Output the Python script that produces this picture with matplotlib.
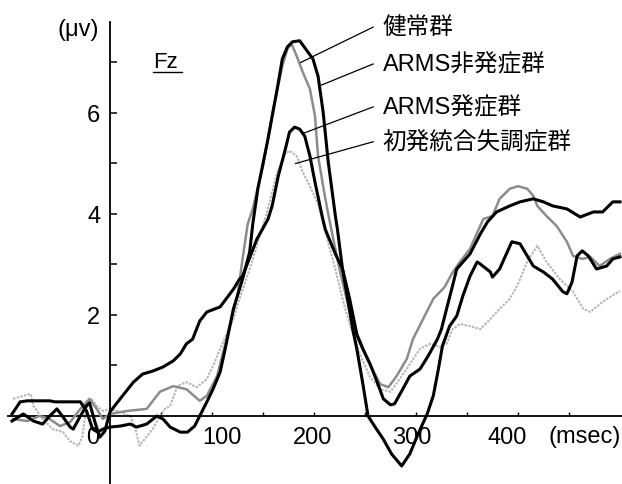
import matplotlib.pyplot as plt
from matplotlib.lines import Line2D
from matplotlib.ticker import FixedLocator

plt.rcParams['font.family'] = ['Liberation Sans', 'Noto Sans CJK JP']

# ---- data (msec, μV) ----
# ARMS非発症群 (black)
t_arms_non = [-96, -88, -81, -59, -54, -29, -23, -17, -12, -7,
              0, 10, 20, 26, 36, 46, 52, 59, 69, 76,
              83, 88, 95, 101, 108, 113, 121, 130, 137, 140,
              145, 155, 164, 169, 174, 179, 186, 199, 204, 209,
              214, 221, 223, 228, 233, 238, 242, 248, 253, 260,
              268, 276, 286, 294, 302, 311, 317, 322, 326, 333,
              340, 346, 353, 360, 363, 373, 375, 382, 394, 402,
              415, 425, 434, 444, 448, 453, 458, 463, 469, 477,
              487, 493, 500]
v_arms_non = [0.04, 0.28, 0.30, 0.30, 0.28, 0.28, 0.10, -0.26, -0.32, -0.26,
              -0.22, -0.20, -0.16, -0.22, -0.16, 0.00, -0.06, -0.22, -0.32, -0.32,
              -0.20, 0.00, 0.28, 0.53, 0.87, 1.33, 2.12, 2.71, 3.25, 3.80,
              4.50, 5.49, 6.48, 7.07, 7.31, 7.41, 7.43, 7.07, 6.73, 6.02,
              5.03, 3.96, 3.70, 2.91, 2.32, 1.72, 1.33, 0.63, 0.00, -0.22,
              -0.46, -0.75, -0.99, -0.75, -0.36, 0.04, 0.40, 0.93, 1.39, 1.78,
              1.98, 2.38, 2.77, 3.05, 3.01, 2.85, 2.75, 2.91, 3.45, 3.41,
              2.97, 2.85, 2.71, 2.46, 2.42, 2.65, 3.17, 3.27, 3.17, 2.91,
              2.97, 3.11, 3.15]

# ARMS発症群 (black)
t_arms_conv = [-96, -85, -75, -66, -59, -52, -46, -39, -36, -29,
               -23, -20, -15, -10, -5, 0, 10, 23, 32, 42,
               52, 62, 69, 75, 81, 88, 95, 108, 121, 127,
               130, 144, 155, 159, 165, 172, 176, 181, 186, 191,
               196, 201, 208, 211, 221, 228, 235, 242, 248, 255,
               262, 268, 275, 279, 287, 294, 304, 312, 321, 325,
               330, 335, 340, 353, 363, 370, 379, 392, 402, 415,
               425, 434, 448, 461, 474, 483, 493, 500]
v_arms_conv = [-0.10, 0.04, -0.10, -0.16, 0.00, 0.14, -0.02, -0.22, -0.26, 0.00,
               0.20, 0.26, -0.10, -0.42, -0.30, 0.08, 0.34, 0.67, 0.83, 0.89,
               0.97, 1.09, 1.23, 1.43, 1.52, 1.88, 2.06, 2.16, 2.51, 2.71,
               2.77, 3.50, 3.90, 4.16, 4.75, 5.29, 5.62, 5.72, 5.68, 5.54,
               5.15, 4.63, 3.96, 3.70, 3.21, 2.91, 2.32, 1.62, 1.33, 1.03,
               0.67, 0.34, 0.22, 0.24, 0.53, 0.79, 0.93, 1.19, 1.52, 1.72,
               2.12, 2.51, 2.91, 3.21, 3.60, 3.84, 4.04, 4.16, 4.24, 4.30,
               4.24, 4.16, 4.10, 3.94, 4.04, 4.04, 4.24, 4.24]

# 健常群 (gray)
t_healthy = [-95, -81, -69, -59, -49, -39, -29, -20, -13, -7,
             0, 17, 36, 49, 62, 75, 88, 95, 105, 115,
             125, 130, 135, 140, 150, 160, 169, 174, 178, 183,
             189, 196, 201, 204, 209, 213, 219, 225, 232, 240,
             252, 265, 273, 281, 291, 297, 307, 317, 328, 335,
             343, 353, 366, 375, 382, 392, 400, 409, 415, 419,
             428, 438, 448, 454, 463, 471, 480, 490, 500]
v_healthy = [-0.06, -0.10, 0.00, -0.06, -0.20, -0.12, 0.14, 0.34, 0.14, -0.06,
             0.04, 0.10, 0.14, 0.48, 0.59, 0.53, 0.30, 0.40, 0.79, 1.58,
             2.38, 3.11, 3.80, 4.10, 4.95, 6.08, 6.93, 7.27, 7.37, 7.13,
             6.81, 6.48, 5.94, 5.15, 4.55, 4.10, 3.50, 2.91, 2.32, 1.66,
             1.13, 0.63, 0.57, 0.79, 1.13, 1.52, 1.92, 2.32, 2.55, 2.81,
             3.05, 3.31, 3.90, 3.96, 4.30, 4.50, 4.55, 4.50, 4.36, 4.16,
             3.96, 3.76, 3.45, 3.17, 3.11, 3.15, 2.97, 3.11, 3.21]

# 初発統合失調症群 (light gray)
t_fep = [-95, -78, -75, -66, -56, -46, -39, -31, -27, -23,
         -18, -13, -7, 0, 10, 20, 25, 29, 34, 42,
         49, 54, 59, 66, 75, 85, 95, 101, 111, 121,
         127, 137, 144, 154, 164, 172, 176, 183, 189, 196,
         204, 213, 221, 228, 235, 245, 255, 265, 275, 284,
         294, 304, 314, 324, 330, 336, 343, 353, 363, 373,
         382, 392, 400, 409, 419, 428, 441, 454, 464, 471,
         483, 500]
v_fep = [0.34, 0.44, 0.20, -0.06, -0.26, -0.32, -0.50, -0.59, -0.40, 0.20,
         0.34, 0.20, 0.10, 0.14, 0.08, 0.00, -0.26, -0.59, -0.46, -0.26,
         0.00, 0.14, 0.20, 0.59, 0.67, 0.57, 0.73, 0.99, 1.47, 1.92,
         2.32, 2.91, 3.37, 4.04, 4.83, 5.19, 5.25, 5.15, 4.83, 4.55,
         4.20, 3.50, 2.91, 2.32, 1.82, 1.23, 0.77, 0.53, 0.48, 0.73,
         1.03, 1.33, 1.43, 1.37, 1.43, 1.72, 1.82, 1.78, 1.72, 1.92,
         2.12, 2.32, 2.61, 3.05, 3.37, 3.05, 2.71, 2.46, 2.12, 2.06,
         2.26, 2.48]

group_names = ['健常群', 'ARMS非発症群', 'ARMS発症群', '初発統合失調症群']
# leader line: point on curve -> end near label
lead_t0 = [187, 207, 190, 182]
lead_v0 = [7.00, 6.55, 5.60, 5.00]
lead_t1 = [258, 258, 258, 258]
lead_v1 = [7.70, 6.97, 6.12, 5.43]

W, H = 622, 485
fig = plt.figure(figsize=(W / 100, H / 100), dpi=100)
ax = fig.add_axes([0, 0, 1, 1])
ax.set_xlim(-107.8, 502)
ax.set_ylim(-1.347, 8.257)


def px(x, y):
    # pixel position -> figure fraction (for free text)
    return x / W, 1 - y / H


ax.plot(t_fep, v_fep, color='#b8b8b8', lw=1.5, ls=(0, (1.2, 0.6)), zorder=2)
ax.plot(t_healthy, v_healthy, color='#8c8c8c', lw=1.8, zorder=3)
ax.plot(t_arms_non, v_arms_non, color='black', lw=2.2, zorder=4)
ax.plot(t_arms_conv, v_arms_conv, color='black', lw=2.2, zorder=5)

for i, name in enumerate(group_names):
    ax.plot([lead_t0[i], lead_t1[i]], [lead_v0[i], lead_v1[i]], color='black', lw=0.9, zorder=6)
    ax.text(lead_t1[i] + 9.5, lead_v1[i], name, fontsize=17, ha='left', va='center')

# axes through the origin
for s in ['top', 'right']:
    ax.spines[s].set_visible(False)
ax.spines['left'].set_position(('data', 0))
ax.spines['bottom'].set_position(('data', 0))
ax.spines['left'].set_bounds(-1.35, 7.8)
ax.spines['bottom'].set_bounds(-100, 502)
ax.spines['left'].set_linewidth(1.3)
ax.spines['bottom'].set_linewidth(1.3)

ax.yaxis.set_major_locator(FixedLocator([2, 4, 6]))
ax.yaxis.set_minor_locator(FixedLocator([1, 3, 5, 7]))
ax.tick_params(axis='y', which='both', direction='in', length=5, width=1.1,
               labelsize=17, pad=7)
ax.xaxis.set_major_locator(FixedLocator([50, 100, 150, 200, 250, 300, 350, 400, 450]))
ax.tick_params(axis='x', which='both', direction='in', length=3, width=1,
               labelbottom=False)

# x labels as placed in the original
for lab, x in [('0', 93), ('100', 222), ('200', 313), ('300', 412), ('400', 507)]:
    fig.text(*px(x, 438), lab, fontsize=17, ha='center', va='center')
fig.text(*px(621, 437), '(msec)', fontsize=17, ha='right', va='center')

fig.text(*px(78, 30), '(μv)', fontsize=17, ha='center', va='center')
fig.text(*px(153, 63), 'Fz', fontsize=16, ha='left', va='center')
fig.add_artist(Line2D([153 / W, 182 / W], [1 - 73 / H, 1 - 73 / H], color='black', lw=1))

fig.savefig('out.png', dpi=100)
